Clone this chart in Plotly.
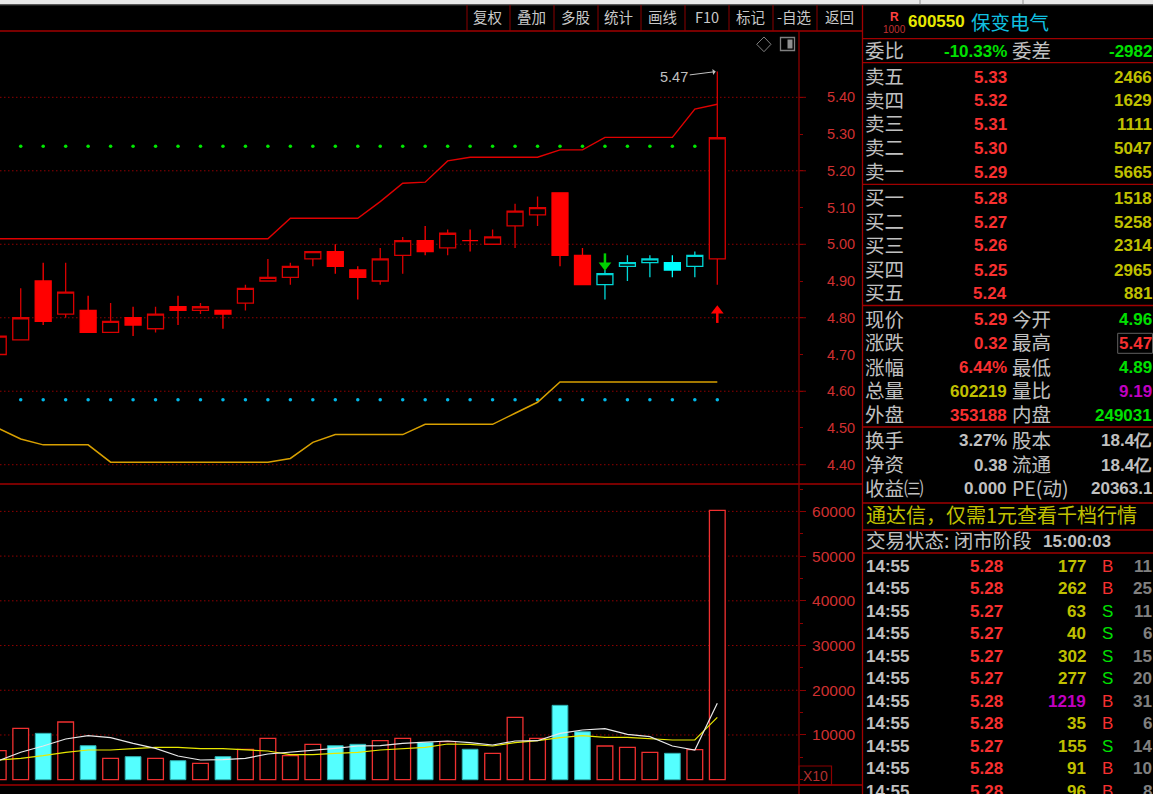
import plotly.graph_objects as go

W = 1153
H = 794

# ---------------------------
# Candles (price pane)
# ---------------------------
opens = [4.70, 4.74, 4.90, 4.81, 4.82, 4.76, 4.80, 4.77, 4.83, 4.82, 4.82,
         4.84, 4.90, 4.91, 4.96, 4.98, 4.93, 4.90, 4.97, 5.01, 4.99, 5.01,
         5.00, 5.05, 5.08, 5.14, 4.97, 4.89, 4.94, 4.95, 4.95, 4.94, 4.96]
highs = [4.75, 4.88, 4.95, 4.95, 4.86, 4.84, 4.83, 4.83, 4.86, 4.84, 4.82,
         4.89, 4.96, 4.95, 4.98, 5.00, 4.94, 4.99, 5.02, 5.05, 5.04, 5.04,
         5.04, 5.11, 5.13, 5.14, 4.99, 4.93, 4.97, 4.97, 4.97, 4.98, 5.47]
lows = [4.70, 4.74, 4.78, 4.80, 4.76, 4.76, 4.75, 4.76, 4.78, 4.81, 4.77,
        4.82, 4.90, 4.89, 4.94, 4.92, 4.85, 4.89, 4.92, 4.97, 4.97, 4.98,
        5.00, 4.99, 5.05, 4.94, 4.89, 4.85, 4.90, 4.91, 4.91, 4.91, 4.89]
closes = [4.75, 4.80, 4.79, 4.87, 4.76, 4.79, 4.78, 4.81, 4.82, 4.83, 4.81,
          4.88, 4.91, 4.94, 4.98, 4.94, 4.91, 4.96, 5.01, 4.98, 5.03, 5.01,
          5.02, 5.09, 5.10, 4.97, 4.89, 4.92, 4.95, 4.96, 4.93, 4.97, 5.29]
cyan_bars = [27, 28, 29, 30, 31]

# Indicator lines on the price pane
upper_line = [5.015, 5.015, 5.015, 5.015, 5.015, 5.015, 5.015, 5.015, 5.015,
              5.015, 5.015, 5.015, 5.015, 5.071, 5.071, 5.071, 5.071, 5.116,
              5.166, 5.169, 5.227, 5.237, 5.237, 5.237, 5.237, 5.257, 5.257,
              5.291, 5.291, 5.291, 5.291, 5.368, 5.381]
lower_line = [4.499, 4.470, 4.454, 4.454, 4.454, 4.407, 4.407, 4.407, 4.407,
              4.407, 4.407, 4.407, 4.407, 4.417, 4.461, 4.482, 4.482, 4.482,
              4.482, 4.510, 4.510, 4.510, 4.510, 4.540, 4.570, 4.625, 4.625,
              4.625, 4.625, 4.625, 4.625, 4.625, 4.625]
green_dots = [5.267] * 31
cyan_dots = [4.577] * 32

# Buy / sell arrows
sell_bar = [27]
sell_head = [4.943]
sell_tail = [4.96]
buy_bar = [32]
buy_head = [4.819]
buy_tail = [4.805]

# ---------------------------
# Volume pane
# ---------------------------
volumes = [6485, 11490, 10370, 12900, 7600, 4780, 5150, 4780, 4250, 3660, 5150,
           6790, 9250, 5370, 7910, 7600, 7910, 8720, 9250, 8360, 8500, 6800,
           5900, 13950, 9250, 16630, 10730, 7540, 7240, 6130, 5900, 6710, 60219]
vol_falling = [2, 4, 6, 8, 10, 15, 16, 19, 21, 25, 26, 30]
vol_ma5 = [4250, 6130, 7540, 9100, 9840, 9390, 8140, 7020, 5300, 4400, 4470,
           4780, 5750, 6130, 6640, 7020, 7540, 7600, 8140, 8430, 8650, 8270,
           7760, 8650, 8720, 10370, 11110, 11400, 10150, 9620, 7540, 6640, 17080]
vol_ma10 = [4400, 4780, 5370, 6130, 6640, 6640, 6930, 7240, 7240, 6930, 6930,
            6640, 6420, 5590, 5590, 5900, 6130, 6640, 7020, 7240, 7980, 7910,
            7540, 8270, 8720, 9390, 9840, 9480, 9480, 9260, 8880, 8880, 13950]

price_ticks = [5.4, 5.3, 5.2, 5.1, 5.0, 4.9, 4.8, 4.7, 4.6, 4.5, 4.4]
price_grid = [5.4, 5.2, 5.0, 4.8, 4.6, 4.4]
vol_ticks = [10000, 20000, 30000, 40000, 50000, 60000]

# ---------------------------
# Text panel on the right
# ---------------------------
toolbar_labels = ["复权", "叠加", "多股", "统计", "画线", "F10", "标记", "-自选", "返回"]
book_labels = ["卖五", "卖四", "卖三", "卖二", "卖一", "买一", "买二", "买三", "买四", "买五"]
book_prices = ["5.33", "5.32", "5.31", "5.30", "5.29", "5.28", "5.27", "5.26", "5.25", "5.24"]
book_sizes = ["2466", "1629", "1111", "5047", "5665", "1518", "5258", "2314", "2965", "881"]

stat_left_labels = ["现价", "涨跌", "涨幅", "总量", "外盘", "换手", "净资", "收益㈢"]
stat_left_values = ["5.29", "0.32", "6.44%", "602219", "353188", "3.27%", "0.38", "0.000"]
stat_right_labels = ["今开", "最高", "最低", "量比", "内盘", "股本", "流通", "PE(动)"]
stat_right_values = ["4.96", "5.47", "4.89", "9.19", "249031", "18.4亿", "18.4亿", "20363.1"]

tick_times = ["14:55"] * 11
tick_prices = ["5.28", "5.28", "5.27", "5.27", "5.27", "5.27", "5.28", "5.28", "5.27", "5.28", "5.28"]
tick_sizes = ["177", "262", "63", "40", "302", "277", "1219", "35", "155", "91", "96"]
tick_sides = ["B", "B", "S", "S", "S", "S", "B", "B", "S", "B", "B"]
tick_counts = ["11", "25", "11", "6", "15", "20", "31", "6", "14", "10", "8"]

# ---------------------------
# Colours and pixel layout
# ---------------------------
RED = "#f83030"
GREEN = "#00e000"
YELLOW = "#c0c000"
GRAY = "#c0c0c0"
PURPLE = "#c000c0"
FRAME = "#a00000"
AXIS = "#8c0000"
GRID = "#900000"
CJK = "Noto Sans CJK SC"
NUM = "Liberation Sans"

toolbar_x = [488, 531, 575, 618, 662, 707, 750, 794, 839]
toolbar_sep = [467, 510, 554, 598, 641, 685, 729, 773, 817]
book_y = [77, 101, 124, 148, 172, 198, 222, 246, 270, 293]
stat_y = [320, 343.5, 367.5, 391, 415, 441, 465, 489]
stat_left_colors = [RED, RED, RED, YELLOW, RED, GRAY, GRAY, GRAY]
stat_right_colors = [GREEN, RED, GREEN, PURPLE, GREEN, GRAY, GRAY, GRAY]
tick_y = [566, 588, 611, 633.5, 656, 678.5, 701, 723.5, 746, 768.5, 791]

PANE_RIGHT = 799
PRICE_TOP, PRICE_BOTTOM = 31, 484
VOL_TOP, VOL_BOTTOM = 485, 785

bars = list(range(len(closes)))


def px(x):
    return x / W


def py(y):
    return 1 - y / H


annotations = []


def label(text, x, y, color=GRAY, size=19.5, family=CJK, anchor="left", bold=False):
    # annotations carry a little padding, CJK line boxes sit low
    if anchor == "left":
        x -= 2.5
    elif anchor == "right":
        x += 1.5
    if family == CJK:
        y -= 1.5
    annotations.append(dict(
        text=text, xref="paper", yref="paper", x=px(x), y=py(y),
        xanchor=anchor, yanchor="middle", showarrow=False,
        font=dict(family=family, size=size, color=color,
                  weight="bold" if bold else "normal"),
    ))


def number(text, x, y, color, anchor="right"):
    label(text, x, y, color=color, size=17, family=NUM, anchor=anchor, bold=True)


shapes = []


def rule(x0, y0, x1, y1, color=FRAME, width=1.3):
    shapes.append(dict(type="line", xref="paper", yref="paper",
                       x0=px(x0), y0=py(y0), x1=px(x1), y1=py(y1),
                       line=dict(color=color, width=width)))


# ---------------------------
# Traces
# ---------------------------
fig = go.Figure()

fig.add_trace(go.Scatter(x=bars[1:32], y=green_dots, mode="markers", yaxis="y",
                         marker=dict(symbol="circle", size=3.5, color="#00e800")))
fig.add_trace(go.Scatter(x=bars[1:], y=cyan_dots, mode="markers", yaxis="y",
                         marker=dict(symbol="circle", size=3.5, color="#00b8e8")))
fig.add_trace(go.Scatter(x=bars, y=upper_line, mode="lines", yaxis="y",
                         line=dict(color="#e00000", width=1.4)))
fig.add_trace(go.Scatter(x=bars, y=lower_line, mode="lines", yaxis="y",
                         line=dict(color="#d8a000", width=1.5)))

red_idx = [i for i in bars if i not in cyan_bars]
for idx, up_line, down_line in [(red_idx, "#d80000", "#ff0000"),
                                (cyan_bars, "#00d8d8", "#00ffff")]:
    fig.add_trace(go.Candlestick(
        x=idx,
        open=[opens[i] for i in idx],
        high=[highs[i] for i in idx],
        low=[lows[i] for i in idx],
        close=[closes[i] for i in idx],
        yaxis="y",
        whiskerwidth=0,
        increasing=dict(line=dict(color=up_line, width=1.3), fillcolor="#000000"),
        decreasing=dict(line=dict(color=down_line, width=1.3), fillcolor=down_line),
    ))

# Arrow signals: shaft + head
fig.add_trace(go.Scatter(x=sell_bar, y=sell_tail, mode="markers", yaxis="y",
                         marker=dict(symbol="line-ns", size=8, line=dict(color="#00d000", width=2.5))))
fig.add_trace(go.Scatter(x=sell_bar, y=sell_head, mode="markers", yaxis="y",
                         marker=dict(symbol="triangle-down", size=11, color="#00d000")))
fig.add_trace(go.Scatter(x=buy_bar, y=buy_tail, mode="markers", yaxis="y",
                         marker=dict(symbol="line-ns", size=10, line=dict(color="#ff0000", width=2.5))))
fig.add_trace(go.Scatter(x=buy_bar, y=buy_head, mode="markers", yaxis="y",
                         marker=dict(symbol="triangle-up", size=11, color="#ff0000")))

# Volume bars
rising = [i for i in bars if i not in vol_falling]
fig.add_trace(go.Bar(x=rising, y=[volumes[i] for i in rising], yaxis="y2", width=0.7,
                     marker=dict(color="#000000", line=dict(color="#f03030", width=1.3))))
fig.add_trace(go.Bar(x=vol_falling, y=[volumes[i] for i in vol_falling], yaxis="y2", width=0.7,
                     marker=dict(color="#54ffff", line=dict(color="#30b0b0", width=1))))
fig.add_trace(go.Scatter(x=bars, y=vol_ma10, mode="lines", yaxis="y2",
                         line=dict(color="#e8e800", width=1.2)))
fig.add_trace(go.Scatter(x=bars, y=vol_ma5, mode="lines", yaxis="y2",
                         line=dict(color="#e8e8e8", width=1.2)))

fig.update_traces(hoverinfo="skip", showlegend=False)

# ---------------------------
# Frame: strip, toolbar, panes
# ---------------------------
shapes.append(dict(type="rect", xref="paper", yref="paper", layer="below",
                   x0=0, x1=1, y0=py(4.5), y1=1,
                   fillcolor="#e8e8e8", line=dict(width=0)))
for x in [920, 1023]:
    rule(x, 0, x, 4.5, color="#909090", width=1)
rule(0, 5, W, 5, color="#404040", width=1)

rule(0, PRICE_TOP, 862, PRICE_TOP)
rule(0, PRICE_BOTTOM, 862, PRICE_BOTTOM)
rule(0, VOL_BOTTOM, 862, VOL_BOTTOM)
rule(PANE_RIGHT, PRICE_TOP, PANE_RIGHT, H, color=AXIS)
rule(862.5, 5, 862.5, H)
for x in toolbar_sep:
    rule(x, 5, x, PRICE_TOP, color=AXIS, width=1)
for y in [38.7, 62.7, 184.3, 305.5, 427, 503, 530, 553]:
    rule(862.5, y, W, y)

# Dotted grid, with a longer tick on the price axis at each grid level
for level in price_grid:
    shapes.append(dict(type="line", xref="x", yref="y", layer="below",
                       x0=0.078, x1=35.636, y0=level, y1=level,
                       line=dict(color=GRID, width=1, dash="1.5px,2.5px")))
    shapes.append(dict(type="line", xref="paper", yref="y",
                       x0=px(PANE_RIGHT), x1=px(PANE_RIGHT + 7), y0=level, y1=level,
                       line=dict(color=AXIS, width=1)))
for level in vol_ticks:
    shapes.append(dict(type="line", xref="x", yref="y2", layer="below",
                       x0=0.078, x1=35.636, y0=level, y1=level,
                       line=dict(color=GRID, width=1, dash="1.5px,2.5px")))

# X10 box
shapes.append(dict(type="rect", xref="paper", yref="paper",
                   x0=px(799), x1=px(831.5), y0=py(785), y1=py(766),
                   line=dict(color=AXIS, width=1.2)))
label("X10", 815, 776, color="#b03030", size=14, family=NUM, anchor="center")

# Diamond and panel icon in the corner of the price pane
shapes.append(dict(type="path", xref="paper", yref="paper",
                   path="M %f,%f L %f,%f L %f,%f L %f,%f Z" % (
                       px(756.7), py(44.3), px(764), py(37), px(771), py(44.3), px(764), py(51.7)),
                   line=dict(color="#808080", width=1)))
shapes.append(dict(type="rect", xref="paper", yref="paper",
                   x0=px(780.5), x1=px(794.5), y0=py(50.5), y1=py(37.5),
                   line=dict(color="#808080", width=1.3)))
shapes.append(dict(type="rect", xref="paper", yref="paper",
                   x0=px(787.5), x1=px(792.5), y0=py(48.5), y1=py(39.5),
                   fillcolor="#909090", line=dict(width=0)))

# Box round the day's high
shapes.append(dict(type="rect", xref="paper", yref="paper",
                   x0=px(1117.7), x1=px(1152.5), y0=py(353.3), y1=py(333.3),
                   line=dict(color="#606060", width=1)))

# ---------------------------
# Text
# ---------------------------
for text, x in zip(toolbar_labels, toolbar_x):
    label(text, x, 18, color="#c8c8c8", size=14.5, anchor="center")

# Header
label("R", 894.5, 16.5, color="#ff4040", size=12, family=NUM, anchor="center", bold=True)
label("1000", 894.5, 29.5, color="#c03030", size=10, family=NUM, anchor="center")
number("600550", 908, 22, "#e8e800", anchor="left")
label("保变电气", 971.5, 22.5, color="#10c0e0", size=19.5)

label("委比", 865.5, 51)
number("-10.33%", 1007.5, 51, GREEN)
label("委差", 1012.3, 51)
number("-2982", 1152.5, 51, GREEN)

for name, price, size, y in zip(book_labels, book_prices, book_sizes, book_y):
    label(name, 865.5, y)
    number(price, 1007, y, RED)
    number(size, 1152.5, y, YELLOW)

for i, y in enumerate(stat_y):
    label(stat_left_labels[i], 865.5, y)
    number(stat_left_values[i], 1007, y, stat_left_colors[i])
    label(stat_right_labels[i], 1012.3, y)
    number(stat_right_values[i], 1152.5, y, stat_right_colors[i])

label("通达信，仅需1元查看千档行情", 866, 516, color=YELLOW, size=20)
label("交易状态: 闭市阶段", 867, 541)
number("15:00:03", 1043.5, 541, GRAY, anchor="left")

for i, y in enumerate(tick_y):
    number(tick_times[i], 867, y, GRAY, anchor="left")
    number(tick_prices[i], 1003.5, y, RED)
    number(tick_sizes[i], 1086, y, PURPLE if tick_sizes[i] == "1219" else YELLOW)
    label(tick_sides[i], 1107, y, color=RED if tick_sides[i] == "B" else GREEN,
          size=17, family=NUM, anchor="center")
    number(tick_counts[i], 1152.5, y, "#808080")

# Highest price callout
annotations.append(dict(
    text="5.47", x=31.93, y=5.47, xref="x", yref="y", ax=-41.5, ay=5.3,
    showarrow=True, arrowhead=1, arrowwidth=1, arrowcolor="#c0c0c0", arrowsize=1,
    font=dict(family=NUM, size=14.5, color="#c0c0c0"),
))

# ---------------------------
# Layout
# ---------------------------
fig.update_layout(
    width=W,
    height=H,
    margin=dict(l=0, r=0, t=0, b=0),
    paper_bgcolor="#000000",
    plot_bgcolor="#000000",
    showlegend=False,
    barmode="overlay",
    boxgap=0.29,
    boxgroupgap=0,
    shapes=shapes,
    annotations=annotations,
    xaxis=dict(
        domain=[0, PANE_RIGHT / W],
        range=[0.078, 35.636],
        visible=False,
        rangeslider=dict(visible=False),
    ),
    yaxis=dict(
        domain=[py(PRICE_BOTTOM), py(PRICE_TOP)],
        range=[4.3475, 5.5805],
        side="right",
        anchor="x",
        tickvals=price_ticks,
        ticktext=["%.2f" % v for v in price_ticks],
        ticks="outside",
        ticklen=3,
        tickcolor=AXIS,
        ticklabelstandoff=21,
        tickfont=dict(family=NUM, size=14.5, color="#d03030"),
        showgrid=False,
        zeroline=False,
        showline=False,
    ),
    yaxis2=dict(
        domain=[py(VOL_BOTTOM), py(VOL_TOP)],
        range=[-1185, 65900],
        side="right",
        anchor="x",
        tickvals=vol_ticks,
        ticktext=[str(v) for v in vol_ticks],
        ticks="outside",
        ticklen=6,
        tickcolor=AXIS,
        ticklabelstandoff=3,
        tickfont=dict(family=NUM, size=15.5, color="#d03030"),
        minor=dict(dtick=5000, ticks="outside", ticklen=3, tickcolor=AXIS),
        showgrid=False,
        zeroline=False,
        showline=False,
    ),
)

fig.write_html(
    "out.html",
    config={"displayModeBar": False},
    post_script="document.body.style.margin='0';document.body.style.overflow='hidden';",
)
